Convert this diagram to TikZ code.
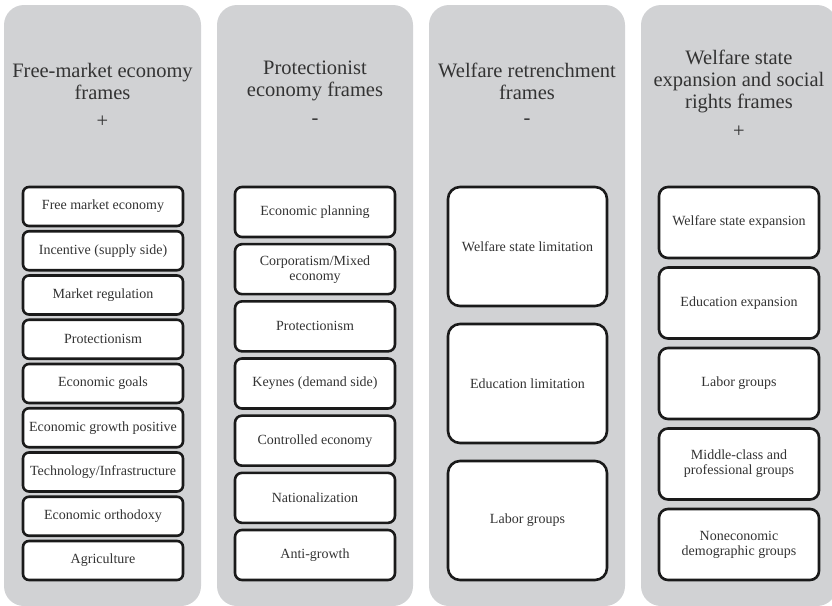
\documentclass[tikz,border=0pt]{standalone}
\usepackage{fontspec}
\setmainfont{Liberation Serif}
\definecolor{panelgray}{HTML}{D1D2D4}
\definecolor{txt}{HTML}{333333}
\definecolor{edge}{HTML}{1A1A1A}
\begin{document}
\begin{tikzpicture}[x=1pt,y=-1pt,
  panel/.style={fill=panelgray, draw=none, rounded corners=20pt},
  title/.style={align=center, text=txt, font=\fontsize{20.5}{22}\selectfont, inner sep=0pt},
  sign/.style={text=txt, font=\fontsize{20.5}{22}\selectfont, inner sep=0pt},
  box/.style={draw=edge, line width=2.6pt, fill=white, align=center, text=txt,
    font=\fontsize{14}{15}\selectfont, minimum width=160pt, inner sep=1pt, rounded corners=6pt},
  boxa/.style={box, minimum height=39pt},
  boxb/.style={box, minimum height=50pt, rounded corners=7pt},
  boxc/.style={box, minimum width=159pt, minimum height=119pt, rounded corners=12pt},
  boxd/.style={box, minimum height=71pt, rounded corners=9pt}
]
\useasboundingbox (0,0) rectangle (832,605);
\begin{scope}
\clip (0,0) rectangle (832,605);
\fill[panel] (4,5) rectangle (201,606);
\fill[panel] (217,5) rectangle (413,606);
\fill[panel] (429,5) rectangle (625,606);
\fill[panel] (641,5) rectangle (837,606);
\end{scope}

% titles
\node[title] (t1) at (102.5,81) {Free-market economy\\frames};
\node[sign] (s1) at (102.5,122) {+};
\node[title] (t2) at (315,81) {Protectionist\\economy frames};
\node[sign] (s2) at (315,122) {-};
\node[title] (t3) at (527,81) {Welfare retrenchment\\frames};
\node[sign] (s3) at (527,122) {-};
\node[title] (t4) at (739,81) {Welfare state\\expansion and social\\rights frames};
\node[sign] (s4) at (739,132) {+};

% column 1
\node[boxa] (a1) at (103,206.5) {Free market economy};
\node[boxa] (a2) at (103,250.75) {Incentive (supply side)};
\node[boxa] (a3) at (103,295) {Market regulation};
\node[boxa] (a4) at (103,339.25) {Protectionism};
\node[boxa] (a5) at (103,383.5) {Economic goals};
\node[boxa] (a6) at (103,427.75) {Economic growth positive};
\node[boxa] (a7) at (103,472) {Technology/Infrastructure};
\node[boxa] (a8) at (103,516.25) {Economic orthodoxy};
\node[boxa] (a9) at (103,560.5) {Agriculture};

% column 2
\node[boxb] (b1) at (315,212) {Economic planning};
\node[boxb] (b2) at (315,269.17) {Corporatism/Mixed\\economy};
\node[boxb] (b3) at (315,326.33) {Protectionism};
\node[boxb] (b4) at (315,383.5) {Keynes (demand side)};
\node[boxb] (b5) at (315,440.67) {Controlled economy};
\node[boxb] (b6) at (315,497.83) {Nationalization};
\node[boxb] (b7) at (315,555) {Anti-growth};

% column 3
\node[boxc] (c1) at (527.5,246.5) {Welfare state limitation};
\node[boxc] (c2) at (527.5,383.5) {Education limitation};
\node[boxc] (c3) at (527.5,520.5) {Labor groups};

% column 4
\node[boxd] (d1) at (739,222.5) {Welfare state expansion};
\node[boxd] (d2) at (739,303) {Education expansion};
\node[boxd] (d3) at (739,383.5) {Labor groups};
\node[boxd] (d4) at (739,464) {Middle-class and\\professional groups};
\node[boxd] (d5) at (739,544.5) {Noneconomic\\demographic groups};
\end{tikzpicture}
\end{document}
